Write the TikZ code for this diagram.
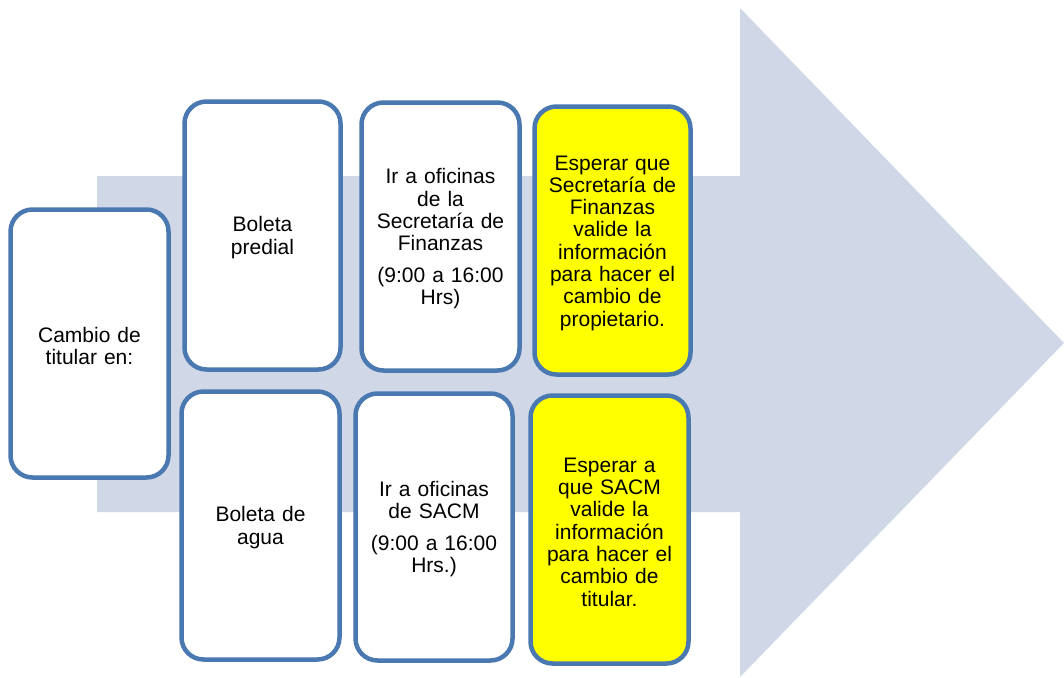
\documentclass[tikz,border=0pt]{standalone}
\usepackage{fontspec}
\setmainfont{Liberation Sans}
\definecolor{arrowfill}{RGB}{208,216,232}
\definecolor{boxline}{RGB}{74,120,176}
\definecolor{hiyellow}{RGB}{255,255,0}
\begin{document}
\begin{tikzpicture}[x=1pt,y=-1pt,
  card/.style={draw=boxline, line width=4.5pt, rounded corners=22pt, fill=white,
    minimum width=158pt, minimum height=268pt, inner sep=0pt,
    text width=150pt, align=center, font=\fontsize{21}{22.3}\selectfont,
    execute at begin node={\rule{0pt}{19.5pt}}},
  hicard/.style={card, fill=hiyellow}]
\useasboundingbox (0,0) rectangle (1064,677);
\fill[arrowfill] (97,176) -- (740,176) -- (740,8) -- (1064,343) -- (740,677) -- (740,512) -- (97,512) -- cycle;
\node[card] (cambio) at (89.5,343.5) {Cambio de\\titular en:};
\node[card, minimum width=156pt] (predial) at (262.5,235.5) {Boleta\\predial};
\node[card] (finanzas) at (440.5,236.5) {Ir a oficinas\\de la\\Secretaría de\\Finanzas\\[9pt](9:00 a 16:00\\Hrs)};
\node[hicard, minimum width=156pt] (esperaf) at (612.5,240.5) {Esperar que\\Secretaría de\\Finanzas\\valide la\\información\\para hacer el\\cambio de\\propietario.};
\node[card] (agua) at (260.5,525.5) {Boleta de\\agua};
\node[card, minimum width=157pt, minimum height=267pt] (sacm) at (434,527) {Ir a oficinas\\de SACM\\[9pt](9:00 a 16:00\\Hrs.)};
\node[hicard] (esperas) at (609.5,529.5) {Esperar a\\que SACM\\valide la\\información\\para hacer el\\cambio de\\titular.};
\end{tikzpicture}
\end{document}
